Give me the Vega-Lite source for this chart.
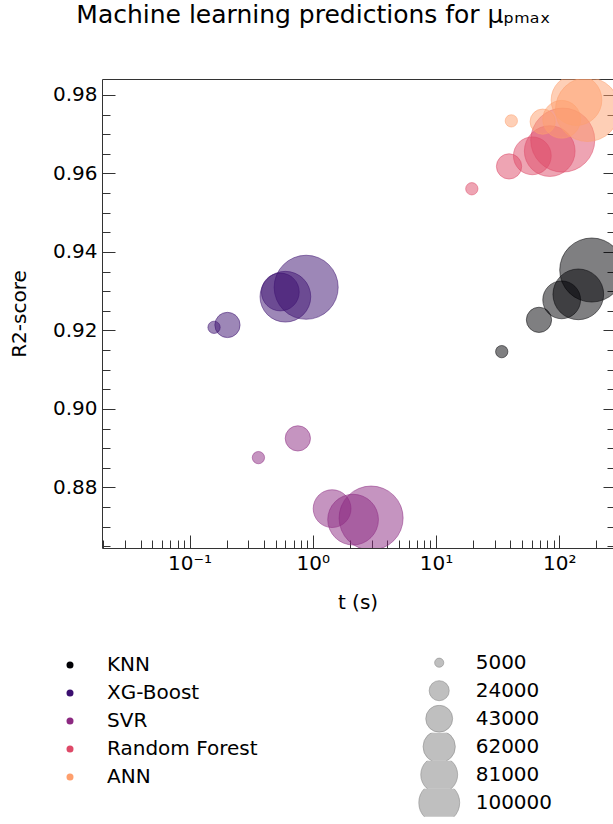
{
  "$schema": "https://vega.github.io/schema/vega-lite/v6.json",
  "width": 511,
  "height": 469,
  "autosize": {"type": "none"},
  "padding": {"left": 102, "top": 79, "right": 0, "bottom": 276},
  "background": "white",
  "title": {
    "text": "Machine learning predictions for μₚₘₐₓ",
    "fontSize": 25,
    "font": "DejaVu Sans",
    "fontWeight": "normal",
    "color": "#000",
    "anchor": "middle",
    "frame": "group",
    "dx": -44,
    "baseline": "alphabetic",
    "offset": 31
  },
  "config": {
    "view": {"stroke": null},
    "font": "DejaVu Sans",
    "axis": {
      "grid": false,
      "labelFont": "DejaVu Sans",
      "labelFontSize": 20,
      "labelColor": "#000",
      "titleFont": "DejaVu Sans",
      "titleFontSize": 20,
      "titleFontWeight": "normal",
      "titleColor": "#000",
      "domainColor": "#333",
      "tickColor": "#333",
      "tickWidth": 1,
      "domainWidth": 1,
      "labelFlush": false,
      "labelOverlap": false
    },
    "legend": {
      "labelFont": "DejaVu Sans",
      "labelFontSize": 20,
      "labelColor": "#000",
      "padding": 0
    }
  },
  "data": {
    "values": [
      {"model": "KNN", "t": 34.1, "r2": 0.9146, "n": 9000},
      {"model": "KNN", "t": 68.4, "r2": 0.9227, "n": 38000},
      {"model": "KNN", "t": 104.5, "r2": 0.9278, "n": 85000},
      {"model": "KNN", "t": 142.6, "r2": 0.9292, "n": 153000},
      {"model": "KNN", "t": 183.2, "r2": 0.9354, "n": 244000},
      {"model": "XG-Boost", "t": 0.158, "r2": 0.9208, "n": 9000},
      {"model": "XG-Boost", "t": 0.203, "r2": 0.9214, "n": 38000},
      {"model": "XG-Boost", "t": 0.545, "r2": 0.9298, "n": 85000},
      {"model": "XG-Boost", "t": 0.599, "r2": 0.9286, "n": 153000},
      {"model": "XG-Boost", "t": 0.883, "r2": 0.931, "n": 244000},
      {"model": "SVR", "t": 0.362, "r2": 0.8876, "n": 9000},
      {"model": "SVR", "t": 0.756, "r2": 0.8925, "n": 38000},
      {"model": "SVR", "t": 1.434, "r2": 0.8746, "n": 85000},
      {"model": "SVR", "t": 2.122, "r2": 0.8718, "n": 153000},
      {"model": "SVR", "t": 2.971, "r2": 0.8722, "n": 244000},
      {"model": "Random Forest", "t": 19.5, "r2": 0.9561, "n": 9000},
      {"model": "Random Forest", "t": 39.1, "r2": 0.9618, "n": 38000},
      {"model": "Random Forest", "t": 60.4, "r2": 0.9645, "n": 85000},
      {"model": "Random Forest", "t": 83.6, "r2": 0.9657, "n": 153000},
      {"model": "Random Forest", "t": 106.6, "r2": 0.9685, "n": 244000},
      {"model": "ANN", "t": 40.8, "r2": 0.9734, "n": 9000},
      {"model": "ANN", "t": 73.3, "r2": 0.9732, "n": 38000},
      {"model": "ANN", "t": 104.5, "r2": 0.9738, "n": 85000},
      {"model": "ANN", "t": 137.8, "r2": 0.9787, "n": 153000},
      {"model": "ANN", "t": 169.3, "r2": 0.9763, "n": 244000}
    ]
  },
  "resolve": {
    "axis": {"x": "independent", "y": "independent"},
    "scale": {"x": "shared", "y": "shared"}
  },
  "layer": [
    {
      "mark": {"type": "circle", "clip": true, "fillOpacity": 0.5, "strokeOpacity": 0.5, "strokeWidth": 1},
      "encoding": {
        "x": {
          "field": "t", "type": "quantitative",
          "scale": {"type": "log", "domain": [0.01948, 272.6], "nice": false},
          "axis": {
            "orient": "bottom",
            "values": [0.1, 1, 10, 100],
            "labelExpr": "datum.value == 0.1 ? '10⁻¹' : datum.value == 1 ? '10⁰' : datum.value == 10 ? '10¹' : '10²'",
            "tickSize": -13,
            "labelPadding": 18,
            "title": "t (s)",
            "titlePadding": 19
          }
        },
        "y": {
          "field": "r2", "type": "quantitative",
          "scale": {"domain": [0.86457, 0.98407], "nice": false, "zero": false},
          "axis": {
            "orient": "left",
            "values": [0.88, 0.9, 0.92, 0.94, 0.96, 0.98],
            "format": ".2f",
            "tickSize": -13,
            "labelPadding": 18,
            "title": "R2-score",
            "titlePadding": 23
          }
        },
        "fill": {
          "field": "model", "type": "nominal",
          "scale": {"domain": ["KNN", "XG-Boost", "SVR", "Random Forest", "ANN"], "range": ["#000004", "#3b0f70", "#8c2981", "#de4968", "#fe9f6d"]},
          "legend": {
            "orient": "none", "legendX": -42, "legendY": 572, "title": null,
            "symbolType": "circle", "symbolSize": 49, "symbolOpacity": 1, "symbolStrokeWidth": 0,
            "labelOffset": 27, "clipHeight": 28, "rowPadding": 0
          }
        },
        "stroke": {
          "field": "model", "type": "nominal",
          "scale": {"domain": ["KNN", "XG-Boost", "SVR", "Random Forest", "ANN"], "range": ["#000004", "#3b0f70", "#8c2981", "#de4968", "#fe9f6d"]},
          "legend": null
        },
        "size": {
          "field": "n", "type": "quantitative",
          "scale": {"type": "linear", "domain": [0, 300000], "range": [0, 5042]},
          "legend": {
            "orient": "none", "legendX": 316.2, "legendY": 569.7, "title": null,
            "values": [5000, 24000, 43000, 62000, 81000, 100000],
            "format": "d",
            "symbolType": "circle",
            "symbolFillColor": "rgba(128,128,128,0.5)",
            "symbolStrokeColor": "rgba(128,128,128,0.5)",
            "symbolStrokeWidth": 1, "symbolOpacity": 1,
            "labelOffset": 15.5, "clipHeight": 28, "rowPadding": 0
          }
        }
      }
    },
    {
      "mark": {"type": "point", "opacity": 0},
      "encoding": {
        "x": {
          "field": "t", "type": "quantitative",
          "axis": {
            "orient": "bottom",
            "values": [0.02, 0.03, 0.04, 0.05, 0.06, 0.07, 0.08, 0.09, 0.2, 0.3, 0.4, 0.5, 0.6, 0.7, 0.8, 0.9, 2, 3, 4, 5, 6, 7, 8, 9, 20, 30, 40, 50, 60, 70, 80, 90, 200],
            "tickSize": -8, "labels": false, "domain": false, "title": null
          }
        },
        "y": {
          "field": "r2", "type": "quantitative",
          "axis": {
            "orient": "left",
            "values": [0.865, 0.87, 0.875, 0.885, 0.89, 0.895, 0.905, 0.91, 0.915, 0.925, 0.93, 0.935, 0.945, 0.95, 0.955, 0.965, 0.97, 0.975],
            "tickSize": -8, "labels": false, "domain": false, "title": null
          }
        }
      }
    },
    {
      "mark": {"type": "point", "opacity": 0},
      "encoding": {
        "x": {
          "field": "t", "type": "quantitative",
          "axis": {"orient": "top", "ticks": false, "labels": false, "domain": true, "title": null}
        },
        "y": {
          "field": "r2", "type": "quantitative",
          "axis": {
            "orient": "right",
            "values": [0.88, 0.9, 0.92, 0.94, 0.96, 0.98],
            "tickSize": -10, "labels": false, "domain": false, "title": null
          }
        }
      }
    },
    {
      "mark": {"type": "point", "opacity": 0},
      "encoding": {
        "x": {"field": "t", "type": "quantitative", "axis": null},
        "y": {
          "field": "r2", "type": "quantitative",
          "axis": {
            "orient": "right",
            "values": [0.865, 0.87, 0.875, 0.885, 0.89, 0.895, 0.905, 0.91, 0.915, 0.925, 0.93, 0.935, 0.945, 0.95, 0.955, 0.965, 0.97, 0.975],
            "tickSize": -6, "labels": false, "domain": false, "title": null
          }
        }
      }
    }
  ]
}
